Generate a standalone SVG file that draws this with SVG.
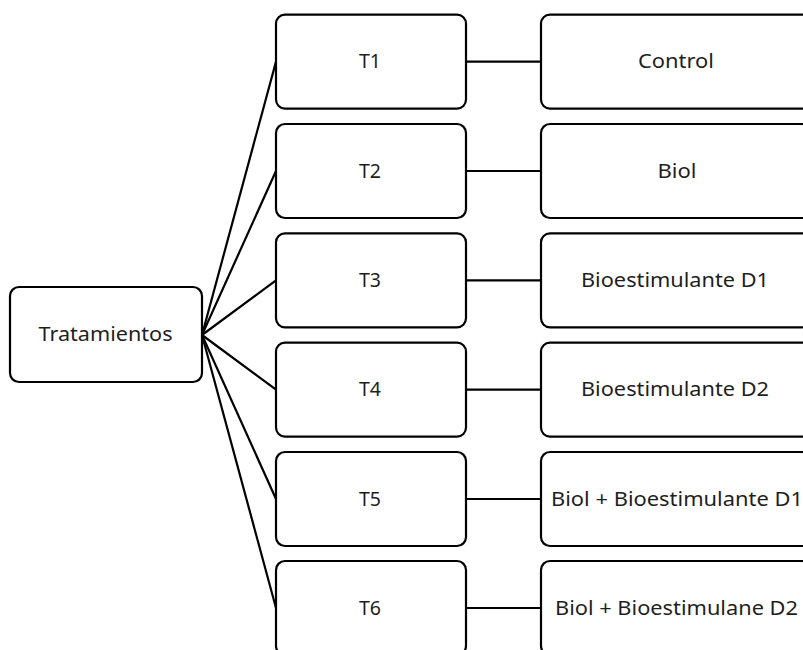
<svg xmlns="http://www.w3.org/2000/svg" width="803" height="650" viewBox="0 0 803 650">
<style>
.box{fill:#fff;stroke:#000;stroke-width:2.2}
.lbl{font-family:"Noto Sans","Open Sans",sans-serif;font-size:20px;fill:#1e1e1e;text-anchor:middle;dominant-baseline:central}
.con{stroke:#000;stroke-width:2.2;fill:none}
</style>
<rect width="803" height="650" fill="#fff"/>
<g id="connectors">
<line class="con" x1="202" y1="335" x2="276" y2="61.6"/>
<line class="con" x1="202" y1="335" x2="276" y2="171"/>
<line class="con" x1="202" y1="335" x2="276" y2="280.3"/>
<line class="con" x1="202" y1="335" x2="276" y2="389.6"/>
<line class="con" x1="202" y1="335" x2="276" y2="499"/>
<line class="con" x1="202" y1="335" x2="276" y2="608"/>
<line class="con" x1="466" y1="61.6" x2="541" y2="61.6"/>
<line class="con" x1="466" y1="171" x2="541" y2="171"/>
<line class="con" x1="466" y1="280.3" x2="541" y2="280.3"/>
<line class="con" x1="466" y1="389.6" x2="541" y2="389.6"/>
<line class="con" x1="466" y1="499" x2="541" y2="499"/>
<line class="con" x1="466" y1="608" x2="541" y2="608"/>
</g>
<g id="tratamientos"><rect class="box" x="10" y="287" width="192" height="95" rx="9"/><text class="lbl" x="105.5" y="333.5" textLength="134" lengthAdjust="spacingAndGlyphs">Tratamientos</text></g>
<g id="t1"><rect class="box" x="276" y="14.6" width="190" height="94" rx="9"/><text class="lbl" x="370" y="60.5" textLength="22" lengthAdjust="spacingAndGlyphs">T1</text></g>
<g id="t2"><rect class="box" x="276" y="124" width="190" height="94" rx="9"/><text class="lbl" x="370" y="170" textLength="22" lengthAdjust="spacingAndGlyphs">T2</text></g>
<g id="t3"><rect class="box" x="276" y="233.3" width="190" height="94" rx="9"/><text class="lbl" x="370" y="279.3" textLength="22" lengthAdjust="spacingAndGlyphs">T3</text></g>
<g id="t4"><rect class="box" x="276" y="342.6" width="190" height="94" rx="9"/><text class="lbl" x="370" y="388.6" textLength="22" lengthAdjust="spacingAndGlyphs">T4</text></g>
<g id="t5"><rect class="box" x="276" y="452" width="190" height="94" rx="9"/><text class="lbl" x="370" y="498" textLength="22" lengthAdjust="spacingAndGlyphs">T5</text></g>
<g id="t6"><rect class="box" x="276" y="561" width="190" height="94" rx="9"/><text class="lbl" x="370" y="607" textLength="22" lengthAdjust="spacingAndGlyphs">T6</text></g>
<g id="control"><rect class="box" x="541" y="14.6" width="270" height="94" rx="9"/><text class="lbl" x="676" y="60.5" textLength="76" lengthAdjust="spacingAndGlyphs">Control</text></g>
<g id="biol"><rect class="box" x="541" y="124" width="270" height="94" rx="9"/><text class="lbl" x="677" y="170" textLength="39" lengthAdjust="spacingAndGlyphs">Biol</text></g>
<g id="bd1"><rect class="box" x="541" y="233.3" width="270" height="94" rx="9"/><text class="lbl" x="675" y="279.3" textLength="188" lengthAdjust="spacingAndGlyphs">Bioestimulante D1</text></g>
<g id="bd2"><rect class="box" x="541" y="342.6" width="270" height="94" rx="9"/><text class="lbl" x="675" y="388.6" textLength="188" lengthAdjust="spacingAndGlyphs">Bioestimulante D2</text></g>
<g id="bbd1"><rect class="box" x="541" y="452" width="270" height="94" rx="9"/><text class="lbl" x="677" y="498" textLength="252" lengthAdjust="spacingAndGlyphs">Biol + Bioestimulante D1</text></g>
<g id="bbd2"><rect class="box" x="541" y="561" width="270" height="94" rx="9"/><text class="lbl" x="676.5" y="607" textLength="243" lengthAdjust="spacingAndGlyphs">Biol + Bioestimulane D2</text></g>
</svg>
